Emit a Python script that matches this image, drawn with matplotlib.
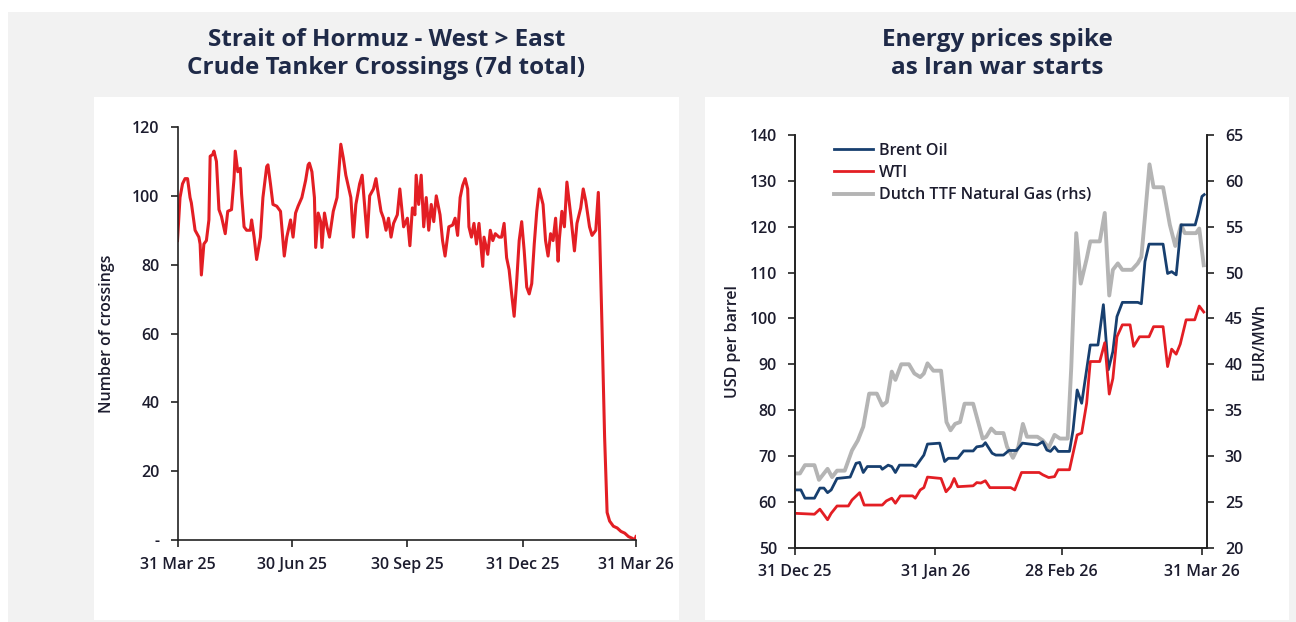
import numpy as np
import matplotlib
matplotlib.use("Agg")
import matplotlib.pyplot as plt
from matplotlib.patches import Rectangle
from matplotlib.ticker import FuncFormatter

plt.rcParams['font.family'] = ['Open Sans', 'DejaVu Sans']

# ---------------- Data: left chart (7d total crossings), days since 31 Mar 2025
hormuz_start = '2025-03-31'
hormuz_days = [0, 2, 4, 6, 8, 10, 11, 14, 17, 18, 19, 21, 23, 25, 26, 28, 29, 31, 33, 35, 38, 40, 43, 45,
               46, 48, 50, 51, 53, 55, 58, 59, 61, 63, 66, 68, 71, 72, 74, 76, 79, 82, 85, 87, 90, 92,
               94, 96, 99, 102, 104, 105, 107, 109, 110, 112, 114, 115, 117, 119, 121, 124, 127, 129,
               130, 132, 134, 138, 140, 142, 145, 147, 148, 151, 153, 156, 158, 159, 162, 164, 166,
               168, 170, 172, 175, 177, 180, 183, 185, 187, 189, 190, 192, 194, 196, 198, 200, 202,
               204, 206, 209, 211, 213, 216, 219, 221, 223, 225, 227, 229, 231, 232, 234, 236, 238,
               240, 243, 244, 247, 249, 251, 253, 256, 258, 260, 262, 264, 266, 268, 270, 272, 274,
               276, 278, 280, 282, 284, 286, 288, 291, 293, 295, 297, 299, 301, 303, 304, 306, 308,
               310, 313, 316, 318, 321, 323, 325, 328, 330, 333, 335, 336, 338, 340, 342, 344, 347,
               350, 353, 356, 359, 362, 364, 365]
hormuz_vals = [87, 99.5, 103.5, 105, 105, 99.5, 98, 90, 88, 86, 77, 86, 87, 93, 111.5, 112, 113, 110, 96,
               94, 89, 95.5, 96, 105, 113, 107, 108, 100.5, 91, 90, 90, 93, 88, 81.5, 88, 99.5, 108.5,
               109, 103.5, 97.5, 97, 95.5, 82.5, 88, 93, 88, 95, 97, 99.5, 104.5, 109, 109.5, 107,
               99.5, 85, 95, 92.5, 85, 95, 91, 88, 95.5, 99.5, 110, 115, 111, 106, 99.5, 88, 97.5,
               103.5, 106, 101.5, 88, 100, 102, 105, 102.5, 95.5, 93.5, 90, 93.5, 88, 92, 94.5, 102,
               91, 93.5, 85.5, 96.5, 94.5, 106, 97.5, 106, 91, 99.5, 90, 97.5, 92.5, 100, 94.5, 87,
               82.5, 91, 91.5, 93.5, 88.5, 99.5, 103, 105, 102, 91, 88, 92, 86, 92, 79.5, 88, 83, 90,
               87, 89, 88, 88, 92, 82, 78.5, 71.5, 65, 75, 87, 92.5, 84, 73.5, 71.5, 74.5, 86, 95.5,
               102, 97.5, 87, 82.5, 89, 87, 93.5, 81, 87.5, 95.5, 91, 104, 94.5, 84, 92, 96.5, 102,
               98.5, 91, 88.5, 90, 101, 90, 61, 30, 8, 5.5, 4, 3.5, 2.5, 2, 1, 0.5, 0, 1]
hormuz_ticks = ['2025-03-31', '2025-06-30', '2025-09-30', '2025-12-31', '2026-03-31']
hormuz_ticklabels = ['31 Mar 25', '30 Jun 25', '30 Sep 25', '31 Dec 25', '31 Mar 26']

# ---------------- Data: right chart, days since 31 Dec 2025
energy_start = '2025-12-31'
brent_days = [0, 1.3, 2.2, 4.3, 5.5, 6.4, 7.2, 8, 9.3, 12.2, 13.5, 14.3, 15.1, 16, 18.9, 19.3, 20.6, 21.4,
              22.2, 23.1, 26, 26.7, 27.7, 28.5, 29.3, 32, 33.1, 33.9, 36, 37.3, 39.4, 40.2, 41.5, 42.1,
              43.6, 44.4, 46.1, 47.3, 49, 50.3, 53.6, 54.8, 55.7, 56.5, 57.4, 58.2, 60.7, 61.5, 62.4,
              63.4, 65.3, 67, 68.2, 69.3, 70.3, 71.2, 72.4, 75.8, 76.6, 77.4, 78.3, 81.4, 82.4, 83.3,
              84.3, 85.4, 88.5, 89.1, 90, 90.5]
brent_vals = [62.6, 62.6, 60.8, 60.8, 63, 63, 62, 62.6, 65.1, 65.4, 68.4, 68.6, 66.4, 67.7, 67.7, 67.1,
              68, 67.7, 66.4, 68, 68, 67.7, 69.1, 70.2, 72.6, 72.8, 68.8, 69.5, 69.5, 71.1, 71.1, 72,
              72.2, 72.9, 70.6, 70.2, 70.2, 71.2, 71.2, 72.8, 72.4, 73.1, 71.3, 71, 72, 71, 71, 75.7,
              84.4, 81.5, 94.2, 94.2, 103, 88.8, 92.8, 100.4, 103.5, 103.5, 103.2, 112.4, 116.2,
              116.2, 109.8, 110.2, 109.5, 120.4, 120.4, 122.6, 126.6, 127]
wti_days = [0, 4.3, 5.5, 6.4, 7.2, 8, 9.3, 11.8, 12.6, 14.3, 15.3, 19.3, 20.2, 21.4, 22.2, 23.3, 26, 26.6,
            27.7, 28.5, 29.3, 32.3, 33.4, 34.4, 35.2, 36, 39.4, 40.2, 41.1, 42.1, 43.1, 47.7, 48.6, 50.1,
            54, 54.8, 56.1, 57.4, 58.2, 60.7, 61.5, 62.4, 63.4, 64.5, 65.3, 67.4, 68.5, 69.5, 70.3,
            71.2, 72.4, 74.1, 74.9, 76.2, 78.3, 79.3, 81.4, 82.4, 83.3, 84.3, 85.2, 86.5, 88.4, 89.4,
            90.4]
wti_vals = [57.5, 57.3, 58.4, 57.2, 56.1, 57.5, 59.1, 59.1, 60.4, 62, 59.3, 59.3, 60.2, 60.8, 59.7, 61.3,
            61.3, 60.8, 62.6, 63.1, 65.4, 65.1, 62.2, 63.3, 65.1, 63.3, 63.5, 64.2, 64.1, 64.6, 63.1,
            63.1, 62.6, 66.4, 66.4, 65.9, 65.3, 65.5, 67, 67, 70.6, 74.6, 75, 81.5, 90.6, 90.6, 94.7,
            83.5, 86.9, 96, 98.6, 98.6, 93.9, 96, 96, 98.2, 98.2, 89.5, 93.3, 92.2, 94.4, 99.7, 99.7,
            102.7, 101.4]
ttf_days = [0, 1.1, 2.2, 4.3, 5.3, 6.4, 7.2, 8.2, 9.3, 11, 12.6, 13.9, 15.1, 16.4, 18.1, 19.3, 20.3,
            21.4, 22.2, 23.5, 25.2, 26.4, 27.7, 28.5, 29.3, 30.6, 32.3, 33.5, 34.4, 35.4, 36.5, 37.5,
            39.4, 41.5, 42.3, 43.4, 44.4, 46.1, 46.9, 48.2, 49.4, 50.4, 51.3, 53.6, 54.8, 56.1, 57.4,
            58.6, 60.3, 61.1, 62.2, 63.2, 64.5, 65.3, 67.4, 68.5, 69.5, 70.3, 71.4, 72.4, 74.5, 75.8,
            76.6, 77.4, 78.4, 79.3, 81.4, 82.9, 84.1, 85.4, 86.2, 88.7, 89.4, 90.4]
ttf_vals = [28.1, 28.1, 29, 29, 27.4, 28.1, 28.6, 27.7, 28.4, 28.4, 30.6, 31.7, 33.2, 36.8, 36.8, 35.5,
            35.9, 39.2, 38.3, 40, 40, 39, 38.6, 39, 40.1, 39.3, 39.3, 33.7, 32.8, 33.5, 33.7, 35.7,
            35.7, 31.9, 32.1, 33, 32.5, 32.5, 31, 29.8, 31, 33.5, 32.1, 32.1, 31.7, 30.9, 32.3, 31.9,
            31.9, 39.7, 54.3, 48.8, 51.5, 53.4, 53.4, 56.5, 47.5, 50.3, 51, 50.3, 50.3, 51, 51.7,
            56.1, 61.8, 59.3, 59.3, 55.2, 52.9, 55.2, 54.3, 54.3, 54.8, 50.8]
energy_ticks = ['2025-12-31', '2026-01-31', '2026-02-28', '2026-03-31']
energy_ticklabels = ['31 Dec 25', '31 Jan 26', '28 Feb 26', '31 Mar 26']

# ---------------- helpers
def to_dates(start, days):
    mins = np.round(np.asarray(days, dtype=float) * 1440).astype('timedelta64[m]')
    return np.datetime64(start, 'm') + mins

W, H = 1296, 622
TXT = '#1c1c2e'
TITLE = '#1f2a48'
RED = '#e31e24'
NAVY = '#173f6f'
GREY = '#b4b4b4'
FS = 11.5
FW = 'semibold'

fig = plt.figure(figsize=(W / 100, H / 100), dpi=100)
fig.patch.set_facecolor('white')

def fx(px):
    return px / W

def fy(py):
    return 1 - py / H

# background panels
fig.patches.append(Rectangle((fx(8), 0), fx(W - 8), fy(12), transform=fig.transFigure,
                             facecolor='#f2f2f2', edgecolor='none', zorder=-10))
fig.patches.append(Rectangle((fx(94), fy(620)), fx(585), (620 - 97) / H, transform=fig.transFigure,
                             facecolor='white', edgecolor='none', zorder=-9))
fig.patches.append(Rectangle((fx(705), fy(620)), fx(584), (620 - 97) / H, transform=fig.transFigure,
                             facecolor='white', edgecolor='none', zorder=-9))

# titles
for cx, lines in [(386.5, ['Strait of Hormuz - West > East', 'Crude Tanker Crossings (7d total)']),
                  (997, ['Energy prices spike', 'as Iran war starts'])]:
    for ly, t in zip([40, 68], lines):
        fig.text(fx(cx), fy(ly), t, ha='center', va='center', fontsize=17.5, fontweight='bold',
                 color=TITLE)

def style_axes(ax):
    ax.set_facecolor('none')
    ax.spines['top'].set_visible(False)
    for s in ax.spines.values():
        s.set_color('#222222')
        s.set_linewidth(1.2)
    ax.tick_params(colors='#222222', labelcolor=TXT, labelsize=FS, width=1.2, length=5)
    for lab in ax.get_xticklabels() + ax.get_yticklabels():
        lab.set_fontweight(FW)

# ---------------- left chart
axL = fig.add_axes([fx(177.5), fy(540), fx(636 - 177.5), (540 - 127) / H])
axL.plot(to_dates(hormuz_start, hormuz_days), hormuz_vals, color=RED, lw=2.2, solid_joinstyle='round')
axL.set_ylim(0, 120)
axL.set_yticks(range(0, 121, 20))
axL.yaxis.set_major_formatter(FuncFormatter(lambda v, p: '-' if v == 0 else f'{v:.0f}'))
tick_d = np.array(hormuz_ticks, dtype='datetime64[m]')
axL.set_xlim(tick_d[0], tick_d[-1])
axL.set_xticks(tick_d)
axL.set_xticklabels(hormuz_ticklabels)
style_axes(axL)
axL.spines['right'].set_visible(False)
axL.tick_params(axis='x', pad=7)
axL.tick_params(axis='y', pad=8)
axL.set_ylabel('Number of crossings', fontsize=FS, fontweight=FW, color=TXT, labelpad=12)

# ---------------- right chart
axR = fig.add_axes([fx(795), fy(547.7), fx(1206.7 - 795), (547.7 - 135) / H])
e0 = np.datetime64(energy_start, 'm')
ln1, = axR.plot(to_dates(energy_start, brent_days), brent_vals, color=NAVY, lw=2.0, label='Brent Oil')
ln2, = axR.plot(to_dates(energy_start, wti_days), wti_vals, color=RED, lw=2.0, label='WTI')
axR.set_ylim(50, 140)
axR.set_yticks(range(50, 141, 10))
axR.set_xlim(e0, to_dates(energy_start, [91.05])[0])
axR.set_xticks(np.array(energy_ticks, dtype='datetime64[m]'))
axR.set_xticklabels(energy_ticklabels)
style_axes(axR)
axR.spines['right'].set_visible(True)
axR.tick_params(axis='x', pad=7)
axR.tick_params(axis='y', pad=8)
axR.set_ylabel('USD per barrel', fontsize=FS, fontweight=FW, color=TXT, labelpad=6)

axR2 = axR.twinx()
ln3, = axR2.plot(to_dates(energy_start, ttf_days), ttf_vals, color=GREY, lw=2.8,
                 label='Dutch TTF Natural Gas (rhs)', zorder=1)
axR2.set_ylim(20, 65)
axR2.set_yticks(range(20, 66, 5))
style_axes(axR2)
axR2.tick_params(pad=8)
axR2.set_ylabel('EUR/MWh', fontsize=FS, fontweight=FW, color=TXT, labelpad=6)
axR.set_zorder(axR2.get_zorder() + 1)
axR.patch.set_visible(False)

leg = axR.legend(handles=[ln1, ln2, ln3], loc='upper left', bbox_to_anchor=(0.08, 0.997), frameon=False,
                 prop={'size': FS, 'weight': FW}, handlelength=2.4, handletextpad=0.4,
                 labelspacing=0.4, borderaxespad=0.0)
for t in leg.get_texts():
    t.set_color(TXT)

fig.savefig('out.png', dpi=100, facecolor=fig.get_facecolor())
